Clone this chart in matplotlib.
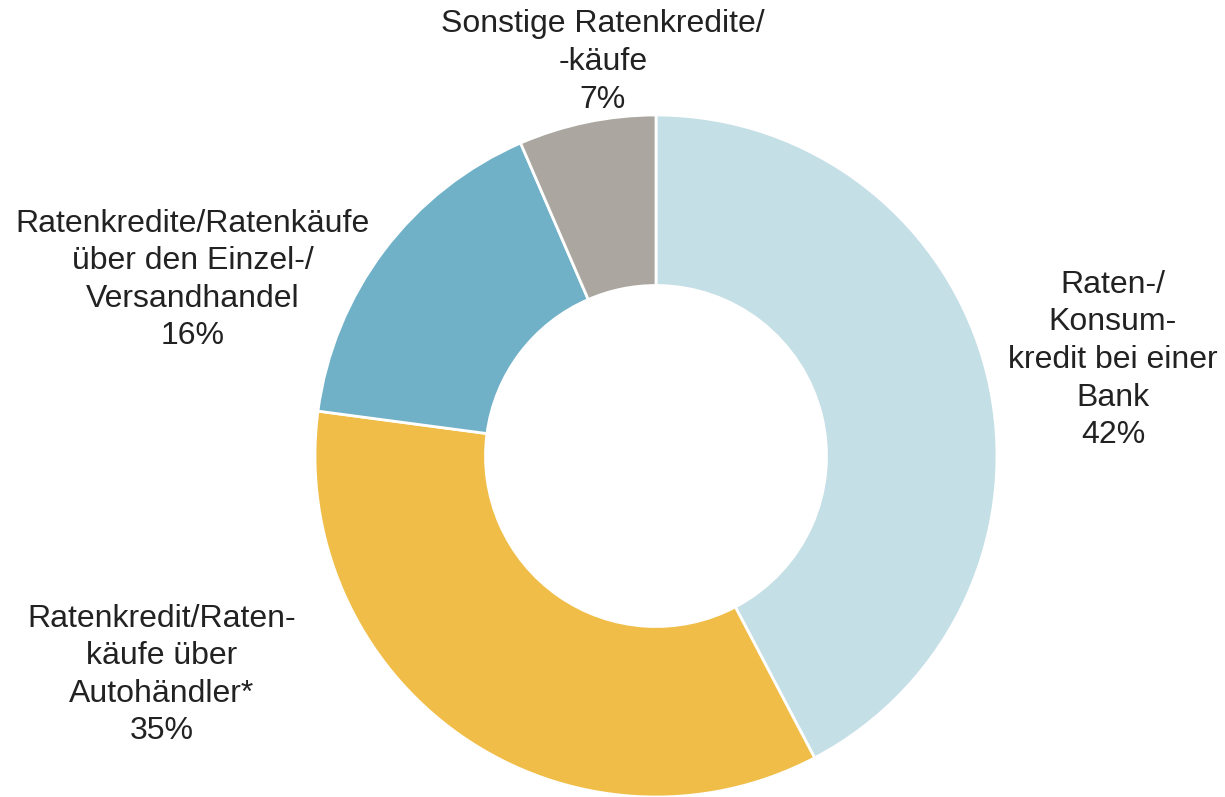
import matplotlib.pyplot as plt

plt.rcParams['font.family'] = ['Liberation Sans', 'DejaVu Sans']

labels = ["Raten-/\nKonsum-\nkredit bei einer\nBank",
          "Ratenkredit/Raten-\nkäufe über\nAutohändler*",
          "Ratenkredite/Ratenkäufe\nüber den Einzel-/\nVersandhandel",
          "Sonstige Ratenkredite/\n-käufe"]
# slice sizes, printed percentages as labelled
shares = [42.3, 34.8, 16.4, 6.5]
pct = [42, 35, 16, 7]
colors = ["#C5DFE7", "#F0BE48", "#70B1C8", "#ABA7A0"]

# label centres in pixels (x, y from top)
label_pos = [(1113, 360), (162, 675), (193, 280), (603, 62)]

W, H = 1225, 797
cx, cy, R = 656, 456, 341

fig = plt.figure(figsize=(W / 100, H / 100), dpi=100)
ax = fig.add_axes([0, 0, 1, 1])
ax.pie(shares, colors=colors, startangle=90, counterclock=False, radius=1,
       wedgeprops=dict(width=0.5, edgecolor="white", linewidth=2))
ax.set_aspect("auto")
ax.set_xlim(-cx / R, (W - cx) / R)
ax.set_ylim(-(H - cy) / R, cy / R)
ax.axis("off")

for lab, val, (px, py) in zip(labels, pct, label_pos):
    ax.text((px - cx) / R, (cy - py) / R, f"{lab}\n{val}%", ha="center", va="center",
            fontsize=23, linespacing=1.33, color="#222222")

fig.savefig("out.png", dpi=100, facecolor="white")
